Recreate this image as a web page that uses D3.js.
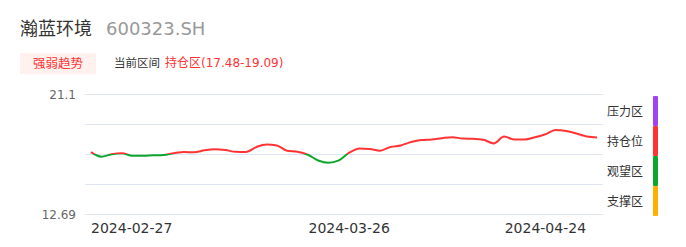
<!DOCTYPE html>
<html>

<head>
    <title>瀚蓝环境</title>
    <meta charset="utf-8">
    <script src="https://d3js.org/d3.v7.min.js"></script>
    <style>
        body { margin: 0; background: #fff; font-family: "DejaVu Sans", "Noto Sans CJK SC", sans-serif; }
    </style>
</head>

<body>
    <div id="chart"></div>
</body>

<script>

    // zone boundaries, bottom to top (12.69 .. 21.1)
    let zoneEdges = [12.69, 15.9, 17.48, 19.09, 21.1];
    let zoneNames = ["支撑区", "观望区", "持仓位", "压力区"];
    let zoneColors = ["#ffb000", "#0da52b", "#ff3333", "#a044f2"];
    let yTickValues = [21.1, 12.69];

    // daily close line (one point per session)
    let values = [
        17.58, 17.34, 17.47, 17.52, 17.39, 17.39, 17.41, 17.43, 17.52, 17.59,
        17.57, 17.68, 17.73, 17.69, 17.60, 17.59, 17.85, 17.99, 17.94, 17.65,
        17.60, 17.44, 17.14, 17.02, 17.14, 17.55, 17.78, 17.75, 17.66, 17.86,
        17.94, 18.12, 18.23, 18.26, 18.33, 18.38, 18.31, 18.30, 18.24, 18.05,
        18.42, 18.26, 18.26, 18.38, 18.54, 18.77, 18.71, 18.58, 18.42, 18.37
    ];
    let xTickIndex = [0, 25, 44];
    let xTickLabels = ["2024-02-27", "2024-03-26", "2024-04-24"];

    let W = 686, H = 247;
    let gridLeft = 85, gridRight = 603, gridTop = 94, gridBottom = 214;
    let lineLeft = 91, lineRight = 597;

    let svg = d3.select("#chart")
        .append("svg")
            .attr("width", W)
            .attr("height", H);

    // header
    svg.append("text")
        .attr("x", 20).attr("y", 35)
        .attr("font-size", 18).attr("fill", "#333")
        .text("瀚蓝环境");
    svg.append("text")
        .attr("x", 106).attr("y", 35)
        .attr("font-size", 18).attr("fill", "#999")
        .text("600323.SH");

    svg.append("rect")
        .attr("x", 20).attr("y", 53)
        .attr("width", 76).attr("height", 21)
        .attr("fill", "#fff1ee");
    svg.append("text")
        .attr("x", 58).attr("y", 67.5)
        .attr("text-anchor", "middle")
        .attr("font-size", 12.5).attr("fill", "#ff3333")
        .text("强弱趋势");

    svg.append("text")
        .attr("x", 114).attr("y", 67)
        .attr("font-size", 11.5).attr("fill", "#333")
        .text("当前区间");
    svg.append("text")
        .attr("x", 165).attr("y", 67)
        .attr("font-size", 12).attr("fill", "#ff3333")
        .text("持仓区(17.48-19.09)");

    // piecewise y scale: each zone gets the same height
    let y = d3.scaleLinear()
        .domain(zoneEdges)
        .range(d3.range(zoneEdges.length).map(i => gridBottom - i * (gridBottom - gridTop) / (zoneEdges.length - 1)));

    let x = d3.scalePoint()
        .domain(d3.range(values.length))
        .range([lineLeft, lineRight]);

    // grid
    svg.append("g")
        .selectAll("line")
        .data(zoneEdges)
        .join("line")
            .attr("x1", gridLeft).attr("x2", gridRight)
            .attr("y1", d => Math.round(y(d)) + 0.5)
            .attr("y2", d => Math.round(y(d)) + 0.5)
            .attr("stroke", "#dfe4f2")
            .attr("stroke-width", 1);

    // y labels
    svg.append("g")
        .selectAll("text")
        .data(yTickValues)
        .join("text")
            .attr("x", 76)
            .attr("y", d => y(d) + 4.5)
            .attr("text-anchor", "end")
            .attr("font-size", 12)
            .attr("fill", "#666")
            .text(d => d);

    // x labels
    svg.append("g")
        .selectAll("text")
        .data(xTickIndex)
        .join("text")
            .attr("x", d => x(d))
            .attr("y", 233)
            .attr("text-anchor", (d, i) => i == 0 ? "start" : "middle")
            .attr("font-size", 14)
            .attr("fill", "#333")
            .text((d, i) => xTickLabels[i]);

    // line coloured by zone
    let grad = svg.append("defs")
        .append("linearGradient")
            .attr("id", "zoneGrad")
            .attr("gradientUnits", "userSpaceOnUse")
            .attr("x1", 0).attr("x2", 0)
            .attr("y1", gridBottom).attr("y2", gridTop);

    let stops = [];
    zoneColors.forEach((c, i) => {
        let a = (gridBottom - y(zoneEdges[i])) / (gridBottom - gridTop);
        let b = (gridBottom - y(zoneEdges[i + 1])) / (gridBottom - gridTop);
        stops.push({ o: a, c: c }, { o: b, c: c });
    });
    grad.selectAll("stop")
        .data(stops)
        .join("stop")
            .attr("offset", d => d.o)
            .attr("stop-color", d => d.c);

    let line = d3.line()
        .x((d, i) => x(i))
        .y(d => y(d))
        .curve(d3.curveMonotoneX);

    svg.append("path")
        .datum(values)
        .attr("d", line)
        .attr("fill", "none")
        .attr("stroke", "url(#zoneGrad)")
        .attr("stroke-width", 2)
        .attr("stroke-linejoin", "round");

    // zone legend on the right
    let bandH = (gridBottom - gridTop) / zoneNames.length;
    let legend = svg.append("g");
    legend.selectAll("rect")
        .data(zoneColors)
        .join("rect")
            .attr("x", 653)
            .attr("y", (d, i) => y(zoneEdges[i + 1]) + 2)
            .attr("width", 5)
            .attr("height", bandH)
            .attr("rx", 1)
            .attr("fill", d => d);
    legend.selectAll("text")
        .data(zoneNames)
        .join("text")
            .attr("x", 607)
            .attr("y", (d, i) => y(zoneEdges[i + 1]) + 2 + bandH / 2 + 4.5)
            .attr("font-size", 12)
            .attr("fill", "#333")
            .text(d => d);

</script>

</html>
